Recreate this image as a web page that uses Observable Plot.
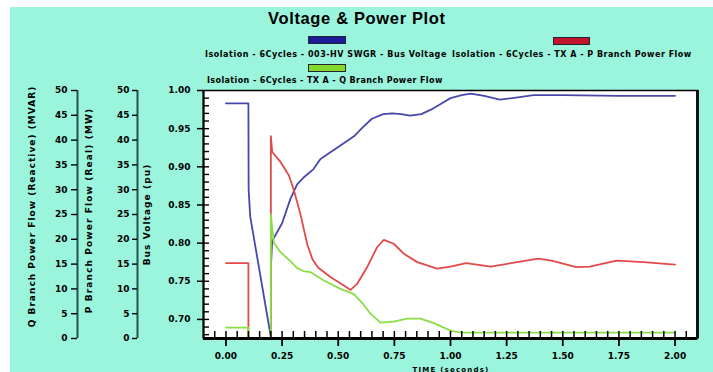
<!DOCTYPE html>
<html>
<head>
<meta charset="utf-8">
<script src="https://cdn.jsdelivr.net/npm/d3@7"></script>
<script src="https://cdn.jsdelivr.net/npm/@observablehq/plot@0.6"></script>
<style>
html,body{margin:0;padding:0;background:#fff;}
#wrap{position:relative;width:713px;height:372px;overflow:hidden;background:#fff;}
#bg{position:absolute;left:10px;top:7px;right:0;bottom:0;background:#9af5dc;}
#wrap svg{position:absolute;left:0;top:0;}
.t{position:absolute;white-space:nowrap;font-weight:bold;color:#000;line-height:1;}
.sw{position:absolute;box-sizing:border-box;}
</style>
</head>
<body>
<div id="wrap"><div id="bg"></div></div>
<script>
// ---------------- data ----------------
const titleText = "Voltage & Power Plot";
const seriesNames = [
  "Isolation - 6Cycles - 003-HV SWGR - Bus Voltage",
  "Isolation - 6Cycles - TX A - P Branch Power Flow",
  "Isolation - 6Cycles - TX A - Q Branch Power Flow"
];
const seriesColors = ["#4848ac", "#e24a4a", "#8ade46"];
const swatchColors = ["#1c1c9a", "#c2142a", "#84d82c"];
const axisTitles = ["Q Branch Power Flow (Reactive) (MVAR)", "P Branch Power Flow (Real) (MW)", "Bus Voltage (pu)"];
const xLabel = "TIME (seconds)";

const xTicks = [0, 0.25, 0.5, 0.75, 1.0, 1.25, 1.5, 1.75, 2.0];
const voltTicks = [0.70, 0.75, 0.80, 0.85, 0.90, 0.95, 1.00];
const powerTicks = [0, 5, 10, 15, 20, 25, 30, 35, 40, 45, 50];

// Bus voltage (pu)
const tV = [0, 0.1, 0.101, 0.108, 0.2, 0.2, 0.206, 0.25, 0.287, 0.317, 0.35, 0.39, 0.42, 0.47, 0.51, 0.57, 0.61, 0.65, 0.70, 0.74, 0.78, 0.82, 0.87, 0.92, 0.96, 1.0, 1.05, 1.09, 1.15, 1.22, 1.30, 1.37, 1.5, 1.75, 2.0];
const vV = [0.983, 0.983, 0.87, 0.835, 0.677, 0.768, 0.803, 0.826, 0.858, 0.877, 0.887, 0.897, 0.910, 0.920, 0.928, 0.940, 0.952, 0.963, 0.969, 0.970, 0.969, 0.967, 0.969, 0.976, 0.983, 0.990, 0.994, 0.996, 0.993, 0.988, 0.991, 0.994, 0.994, 0.993, 0.993];
// P branch power flow (MW)
const tP = [0, 0.1, 0.1, 0.2, 0.2, 0.206, 0.243, 0.28, 0.302, 0.332, 0.362, 0.385, 0.41, 0.465, 0.525, 0.555, 0.584, 0.629, 0.673, 0.703, 0.747, 0.792, 0.852, 0.94, 1.0, 1.07, 1.18, 1.27, 1.39, 1.45, 1.56, 1.62, 1.74, 1.86, 2.0];
const vP = [15.2, 15.2, 0, 0, 40.8, 37.6, 35.6, 32.9, 30.0, 25.0, 19.0, 16.0, 14.3, 12.4, 10.7, 9.8, 11.0, 14.4, 18.4, 19.9, 19.1, 17.1, 15.4, 14.1, 14.5, 15.2, 14.5, 15.2, 16.1, 15.7, 14.4, 14.5, 15.7, 15.4, 14.9];
// Q branch power flow (MVAR)
const tQ = [0, 0.1, 0.1, 0.2, 0.2, 0.213, 0.243, 0.287, 0.317, 0.345, 0.376, 0.436, 0.51, 0.569, 0.61, 0.644, 0.688, 0.747, 0.807, 0.866, 0.926, 0.97, 1.007, 1.05, 1.25, 1.5, 1.75, 2.0];
const vQ = [2.2, 2.2, 0, 0, 25.0, 19.3, 17.4, 15.6, 14.2, 13.6, 13.4, 11.7, 10.0, 9.0, 7.0, 5.0, 3.2, 3.4, 4.0, 4.0, 3.1, 2.2, 1.5, 1.2, 1.2, 1.2, 1.2, 1.2];

// ---------------- layout ----------------
const W = 713, H = 372;
const M = {top: 90, right: 16, bottom: 34, left: 203};
const xDomain = [-0.1, 2.1];
const voltDomain = [0.675, 1.0];
const powerDomain = [0, 50];
const xMinor = d3.range(-1, 42).map(i => +(i * 0.05).toFixed(2));
const yMinor = d3.range(68, 100).map(i => i / 100);

const bus = tV.map((t, i) => ({t, v: vV[i]}));
const pf = tP.map((t, i) => ({t, v: vP[i]}));
const qf = tQ.map((t, i) => ({t, v: vQ[i]}));

const common = {
  width: W, height: H,
  marginTop: M.top, marginRight: M.right, marginBottom: M.bottom, marginLeft: M.left,
  style: {background: "transparent", fontFamily: "DejaVu Sans", fontSize: "9px", fontWeight: "bold", color: "#000", overflow: "visible"}
};
const blank = () => "";

// bottom layer: white plotting area, bus voltage line and its axis
const plotA = Plot.plot({
  ...common,
  x: {domain: xDomain, axis: null},
  y: {domain: voltDomain},
  marks: [
    Plot.frame({fill: "white", stroke: null}),
    Plot.line(bus, {x: "t", y: "v", stroke: seriesColors[0], strokeWidth: 1.8}),
    Plot.axisY({ticks: voltTicks, tickSize: 6, tickPadding: 7, tickFormat: d3.format(".2f"), label: null, strokeWidth: 1.5})
  ]
});

// top layer: P and Q lines, frame, x axis, P and Q axes
const plotB = Plot.plot({
  ...common,
  x: {domain: xDomain},
  y: {domain: powerDomain},
  marks: [
    Plot.line(pf, {x: "t", y: "v", stroke: seriesColors[1], strokeWidth: 1.8}),
    Plot.line(qf, {x: "t", y: "v", stroke: seriesColors[2], strokeWidth: 1.8}),
    Plot.frame({stroke: "#000", strokeWidth: 1.5}),
    Plot.ruleY([powerDomain[0]], {stroke: "#000", strokeWidth: 3}),
    Plot.ruleX([xDomain[1]], {stroke: "#111", strokeWidth: 3}),
    Plot.ruleX([xDomain[0]], {stroke: "#000", strokeWidth: 2}),
    // minor ticks, inside the frame (drawn on top of the frame lines)
    Plot.axisX({ticks: xMinor, tickSize: -7, tickFormat: blank, label: null, strokeWidth: 1.5}),
    Plot.axisX({ticks: xTicks, tickSize: 8, tickPadding: 6, tickFormat: d3.format(".2f"), label: null, strokeWidth: 1.8}),
    // P axis
    Plot.ruleX([xDomain[0]], {dx: -66, stroke: "#24504f", strokeWidth: 2}),
    Plot.axisY({ticks: powerTicks, anchor: "left", dx: -66, tickSize: 5, tickPadding: 3, label: null, strokeWidth: 1.4}),
    // Q axis
    Plot.ruleX([xDomain[0]], {dx: -126, stroke: "#24504f", strokeWidth: 2}),
    Plot.axisY({ticks: powerTicks, anchor: "left", dx: -126, tickSize: 6, tickPadding: 4, label: null, strokeWidth: 1.4})
  ]
});

// minor voltage ticks inside the left edge, drawn on top of everything
const plotC = Plot.plot({
  ...common,
  x: {domain: xDomain, axis: null},
  y: {domain: voltDomain},
  marks: [
    Plot.axisY({ticks: yMinor, tickSize: -6, tickFormat: blank, label: null, strokeWidth: 1.4})
  ]
});

const wrap = document.getElementById("wrap");
wrap.appendChild(plotA);
wrap.appendChild(plotB);
wrap.appendChild(plotC);

// ---------------- text helpers ----------------
function addText(txt, opts) {
  const el = document.createElement("div");
  el.className = "t";
  el.textContent = txt;
  el.style.fontFamily = opts.font || "DejaVu Sans";
  el.style.fontSize = opts.size + "px";
  wrap.appendChild(el);
  if (opts.width) {
    const w0 = el.offsetWidth;
    el.style.letterSpacing = ((opts.width - w0) / txt.length) + "px";
  }
  const w = el.offsetWidth, h = el.offsetHeight;
  if (opts.rotate) {
    el.style.left = (opts.cx - w / 2) + "px";
    el.style.top = (opts.cy - h / 2) + "px";
    el.style.transform = "rotate(-90deg)";
  } else if (opts.left != null) {
    el.style.left = opts.left + "px";
    el.style.top = (opts.cy - h / 2) + "px";
  } else {
    el.style.left = (opts.cx - w / 2) + "px";
    el.style.top = (opts.cy - h / 2) + "px";
  }
  return el;
}
function addSwatch(color, left, top, w, h) {
  const el = document.createElement("div");
  el.className = "sw";
  el.style.left = left + "px"; el.style.top = top + "px";
  el.style.width = w + "px"; el.style.height = h + "px";
  el.style.background = color;
  el.style.border = "1px solid #223";
  wrap.appendChild(el);
}

addText(titleText, {font: "Liberation Sans", size: 16.5, width: 178, cx: 357, cy: 18});
addSwatch(swatchColors[0], 308, 36, 38, 8);
addSwatch(swatchColors[1], 553, 37, 37, 8);
addSwatch(swatchColors[2], 308, 63.5, 38, 8);
addText(seriesNames[0], {size: 8, width: 242, left: 205, cy: 55});
addText(seriesNames[1], {size: 8, width: 240, left: 452, cy: 55});
addText(seriesNames[2], {size: 8, width: 236, left: 207, cy: 81});
addText(axisTitles[0], {size: 9, width: 242, cx: 33, cy: 206, rotate: true});
addText(axisTitles[1], {size: 9, width: 206, cx: 90, cy: 210, rotate: true});
addText(axisTitles[2], {size: 9, width: 102, cx: 148, cy: 214, rotate: true});
addText(xLabel, {size: 7, width: 77, cx: 451, cy: 370});
</script>
</body>
</html>
